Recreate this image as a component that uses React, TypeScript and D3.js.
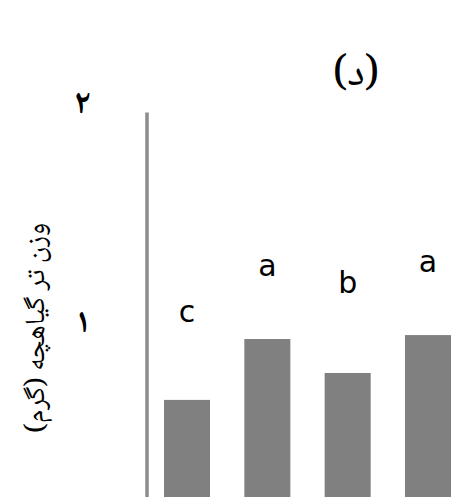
import React from "react";
import * as d3 from "d3";

const categories = ["T1", "T2", "T3", "T4"];
const values = [0.658, 0.936, 0.781, 0.954];
const se = [0.356, 0.288, 0.365, 0.288];
const letters = ["c", "a", "b", "a"];
const tickValues = [1, 2];
const tickLabels = ["۱", "۲"];
const yLabel = "وزن تر گیاهچه (گرم)";
const title = "(د)";

const width = 451;
const height = 497;

export default function App() {
  const y = d3.scaleLinear().domain([0, 2]).range([544, 106]);
  const x = d3
    .scaleBand()
    .domain(categories)
    .range([164, 451])
    .paddingInner(0.427)
    .paddingOuter(0);
  const axisX = 147;
  const font = "DejaVu Sans, sans-serif";
  const arabic = "'Noto Naskh Arabic', 'Noto Sans Arabic', 'DejaVu Sans', sans-serif";

  return (
    <svg
      width={width}
      height={height}
      style={{ position: "absolute", left: 0, top: 0, overflow: "hidden" }}
    >
      <rect width={width} height={height} fill="#fff" />
      <text x={356} y={85} fontFamily={arabic} fontSize={42} textAnchor="middle" fill="#000">
        {title}
      </text>
      <line
        x1={axisX}
        x2={axisX}
        y1={y(1.97)}
        y2={y(0)}
        stroke="#8c8c8c"
        strokeWidth={3.5}
      />
      {tickValues.map((t, i) => (
        <text
          key={t}
          x={83}
          y={y(t)}
          fontFamily={arabic}
          fontSize={34}
          fontWeight="bold"
          textAnchor="middle"
          dominantBaseline="central"
          fill="#000"
        >
          {tickLabels[i]}
        </text>
      ))}
      <text
        transform={`translate(38, 328) rotate(-90)`}
        fontFamily={arabic}
        fontSize={28}
        textAnchor="middle"
        dominantBaseline="central"
        fill="#000"
      >
        {yLabel}
      </text>
      {categories.map((c, i) => (
        <g key={c}>
          <rect
            x={x(c)}
            y={y(values[i])}
            width={x.bandwidth()}
            height={y(0) - y(values[i])}
            fill="#808080"
          />
          <text
            x={(x(c) ?? 0) + x.bandwidth() / 2}
            y={y(values[i] + se[i])}
            fontFamily={font}
            fontSize={30}
            textAnchor="middle"
            fill="#000"
          >
            {letters[i]}
          </text>
        </g>
      ))}
    </svg>
  );
}
